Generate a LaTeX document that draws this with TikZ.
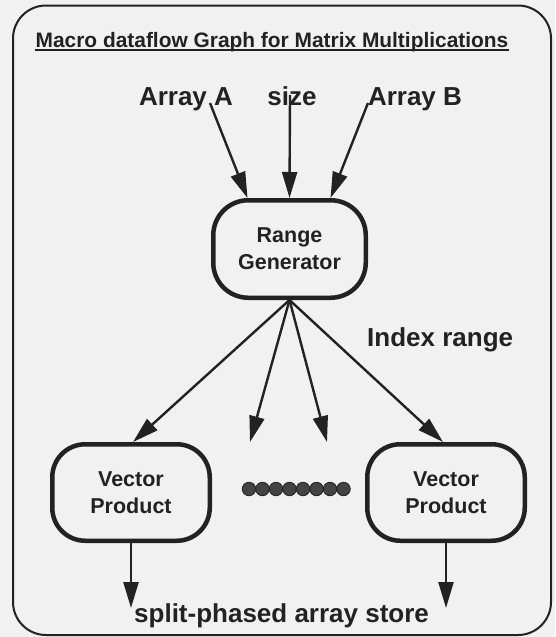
\documentclass[tikz,border=0pt]{standalone}
\usepackage{fontspec}
\setmainfont{Liberation Sans}
\usetikzlibrary{arrows.meta,calc}
\definecolor{paper}{HTML}{F1F1F1}
\definecolor{ink}{HTML}{222222}
\begin{document}
\begin{tikzpicture}[x=1pt,y=-1pt,
  box/.style={draw=ink, line width=4.5pt, rounded corners=33pt, align=center,
    font=\fontsize{21.5}{27}\selectfont\bfseries, text=ink, inner sep=0pt},
  lbl/.style={font=\fontsize{26}{30}\selectfont\bfseries, text=ink, inner sep=0pt},
  arr/.style={draw=ink, line width=2.4pt, -{Triangle[length=26pt,width=15pt]}},
  dotnode/.style={circle, fill=ink!85, draw=ink, line width=0.8pt, minimum size=13.5pt, inner sep=0pt},
]
\fill[paper] (0,0) rectangle (555,637);
\useasboundingbox (0,0) rectangle (555,637);
\draw[ink, line width=2pt, rounded corners=33pt] (13,5.5) rectangle (551,635);

% title
\node[font=\fontsize{20.9}{25}\selectfont\bfseries, text=ink, inner sep=0pt, anchor=base] (title) at (272,47)
  {Macro dataflow Graph for Matrix Multiplications};
\draw[ink, line width=1.5pt] ($(title.base west)+(0,3.2)$) -- ($(title.base east)+(0,3.2)$);

% inputs
\node[lbl, anchor=base] (arrA) at (186,105) {Array A};
\node[lbl, anchor=base] (size) at (292,105) {size};
\node[lbl, anchor=base] (arrB) at (415,105) {Array B};
\coordinate (sA) at (210,103);
\coordinate (sS) at (290,95);
\coordinate (sB) at (368,103);

% boxes
\node[box, minimum width=152.5pt, minimum height=97.5pt, rounded corners=35pt] (rg) at (289.5,249) {Range\\Generator};
\node[box, minimum width=157.5pt, minimum height=96.5pt] (vp1) at (131,492.5) {Vector\\Product};
\node[box, minimum width=157.5pt, minimum height=96.5pt] (vp2) at (446,492.5) {Vector\\Product};

\draw[arr] (sA) -- ([xshift=-42pt]rg.north);
\draw[arr] (sS) -- (rg.north);
\draw[arr] (sB) -- ([xshift=41pt]rg.north);

% index range
\node[lbl, anchor=base west] (idx) at (367,346) {Index range};

% fan
\coordinate (m1) at (250,442);
\coordinate (m2) at (327,442);
\draw[arr] (rg.south) -- ([xshift=2pt]vp1.north);
\draw[arr] (rg.south) -- (m1);
\draw[arr] (rg.south) -- (m2);
\draw[arr] (rg.south) -- ([xshift=-3pt]vp2.north);

% dots
\foreach \i in {0,...,7} \node[dotnode] (dot\i) at ({249+13.5*\i},489) {};

% outputs
\node[lbl, anchor=base west] (store) at (134,622) {split-phased array store};
\coordinate (o1) at (131,608);
\coordinate (o2) at (446,608);
\draw[arr] (vp1.south) -- (o1);
\draw[arr] (vp2.south) -- (o2);
\end{tikzpicture}
\end{document}
